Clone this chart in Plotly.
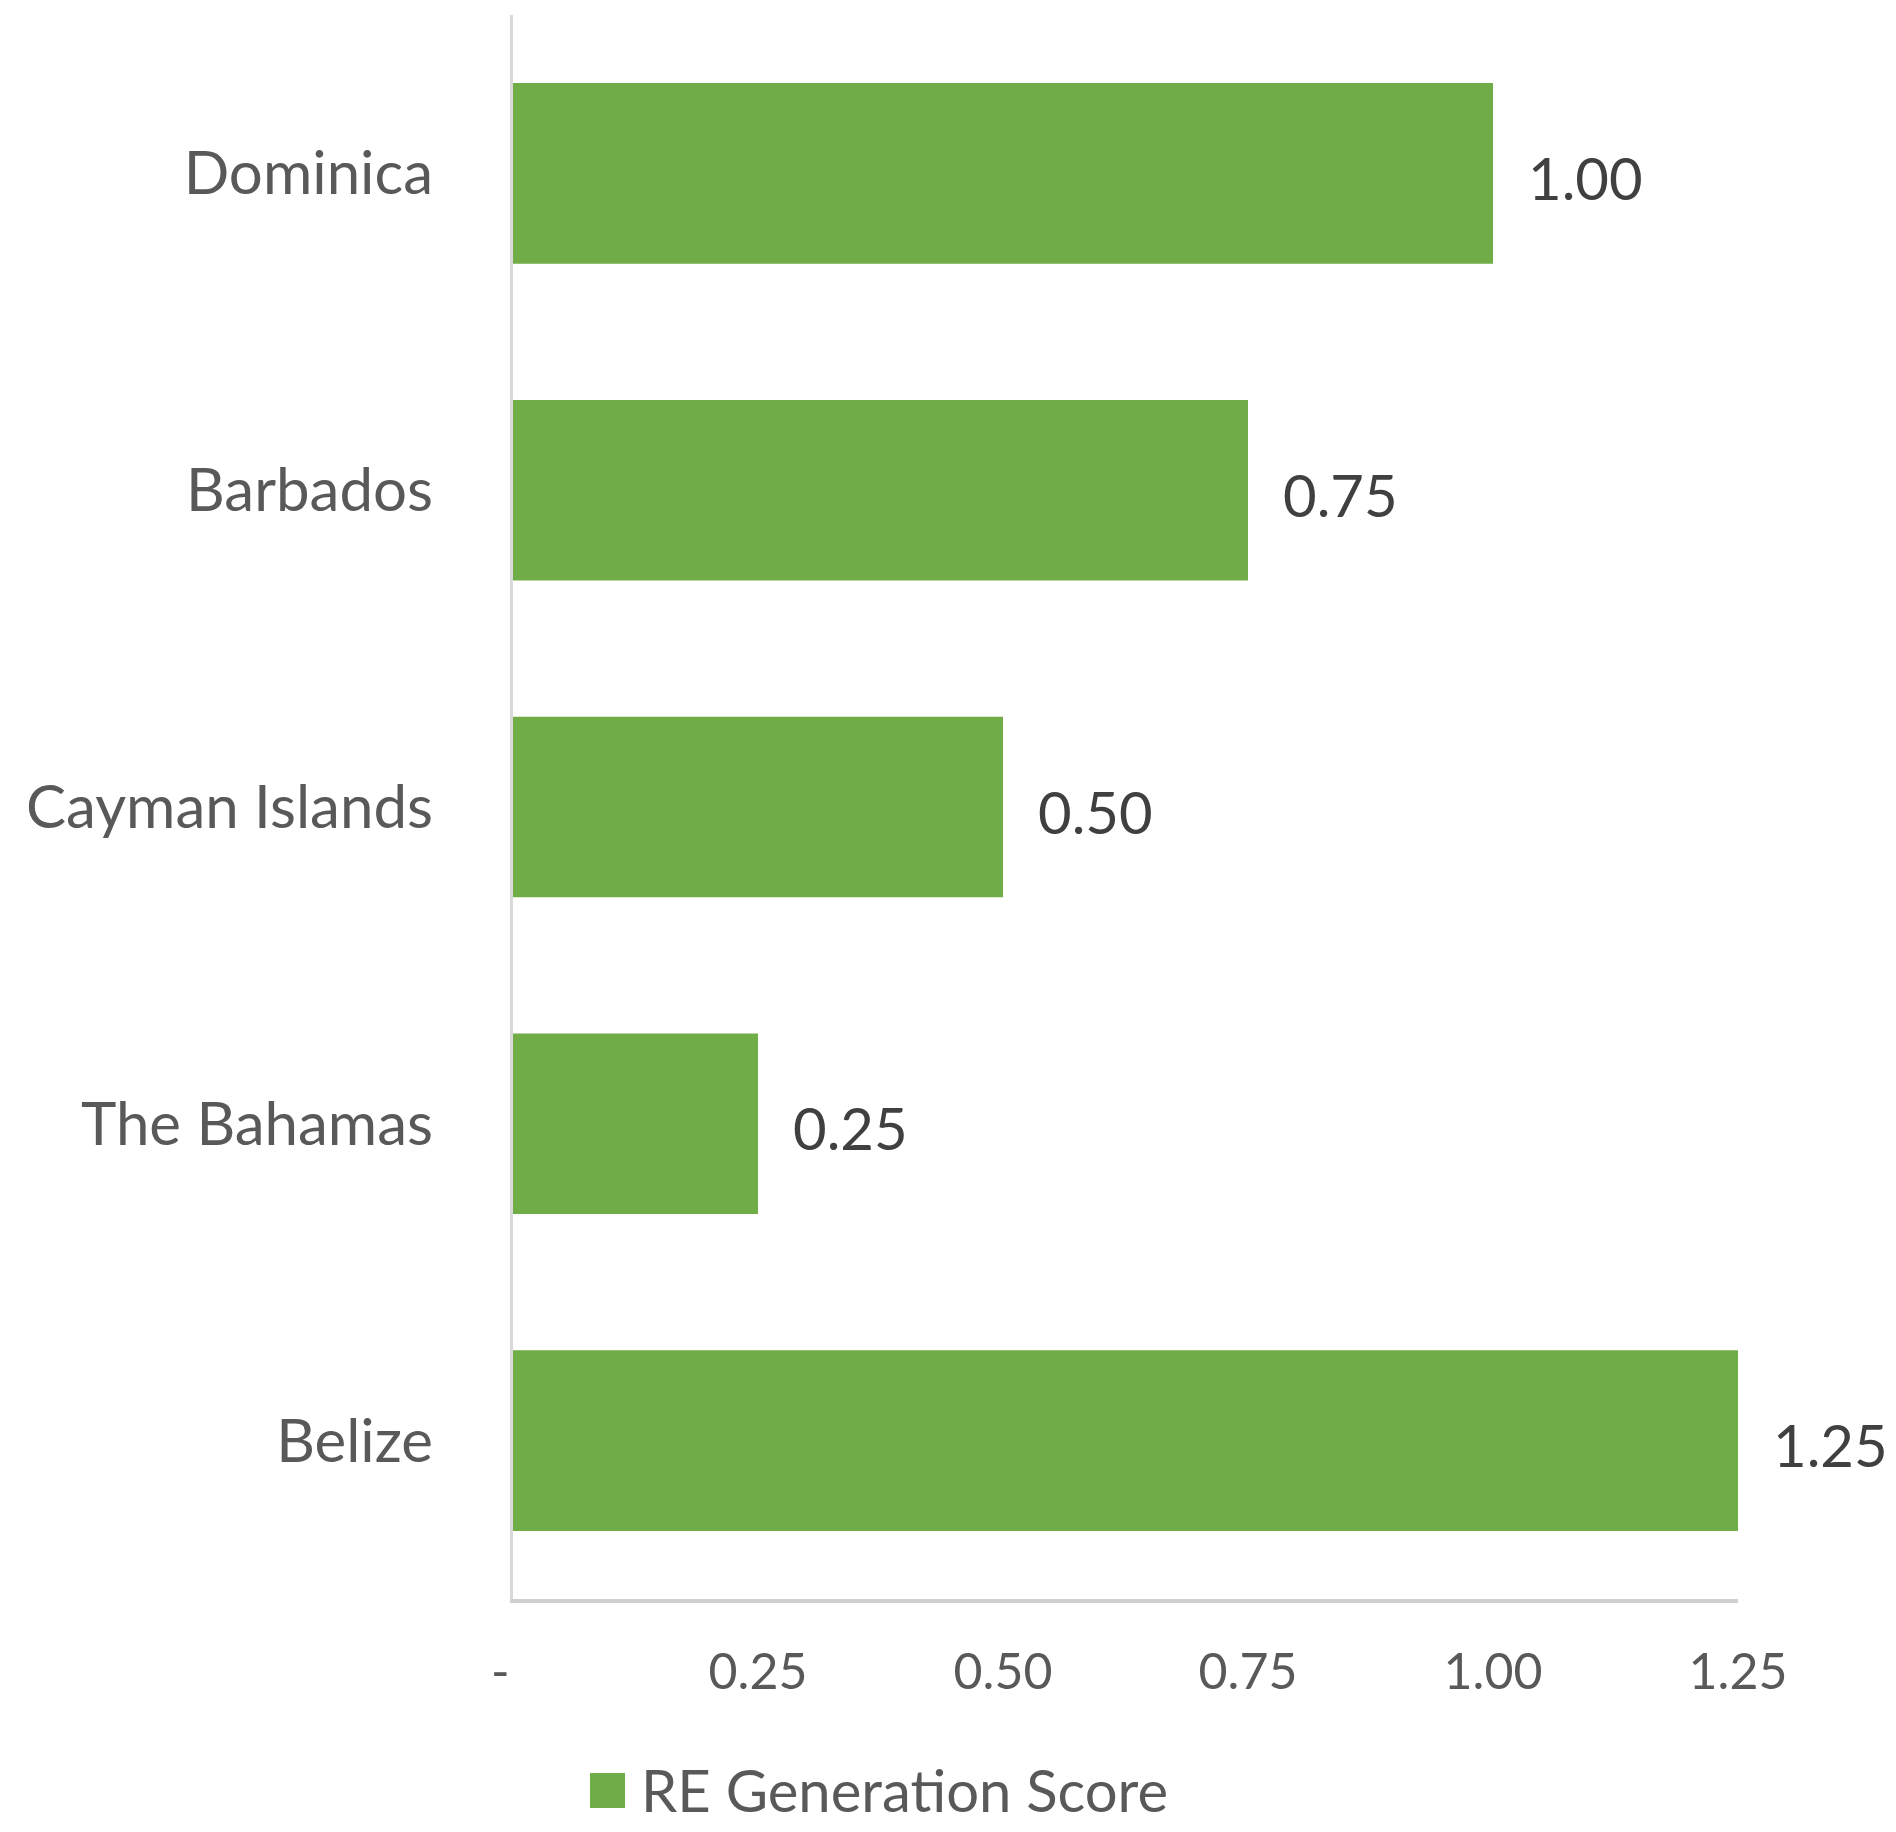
import plotly.graph_objects as go

countries = ["Dominica", "Barbados", "Cayman Islands", "The Bahamas", "Belize"]
scores = [1.00, 0.75, 0.50, 0.25, 1.25]
tick_vals = [0, 0.25, 0.50, 0.75, 1.00, 1.25]
tick_text = ["-\u00a0\u00a0", "0.25", "0.50", "0.75", "1.00", "1.25"]
series_name = "RE Generation Score"

GREEN = "#70AD47"
FONT = "Lato"

# plot area in page pixels (reference): x 513..1738, y 15..1599
PX0, PX1, PY0, PY1 = 513, 1738, 15, 1599
PW, PH = PX1 - PX0, PY1 - PY0

fig = go.Figure()
fig.add_trace(go.Bar(
    x=scores, y=countries, orientation="h",
    marker=dict(color=GREEN, line=dict(width=0)),
    name=series_name, showlegend=False,
))

for c, v in zip(countries, scores):
    fig.add_annotation(
        x=v, y=c, xref="x", yref="y", text=f"{v:.2f}",
        showarrow=False, xanchor="left", yanchor="middle",
        xshift=33, yshift=-4,
        font=dict(family=FONT, size=58, color="#404040"),
    )

# legend (manual, to match the large swatch)
fig.add_shape(type="rect", xref="paper", yref="paper",
              x0=(590 - PX0) / PW, x1=(625 - PX0) / PW,
              y0=-(1808 - PY1) / PH, y1=-(1773 - PY1) / PH,
              fillcolor=GREEN, line=dict(width=0))
fig.add_annotation(x=(640 - PX0) / PW, y=-(1789 - PY1) / PH,
                   xref="paper", yref="paper", text=series_name,
                   showarrow=False, xanchor="left", yanchor="middle",
                   borderpad=0,
                   font=dict(family=FONT, size=58, color="#595959"))

# the page body adds an 8px offset
W, H = 1880, 1816
fig.update_layout(
    width=W, height=H,
    margin=dict(l=PX0 - 8, r=W - (PX1 - 8), t=PY0 - 8, b=H - (PY1 - 8)),
    paper_bgcolor="white", plot_bgcolor="white",
    bargap=0.43,
    font=dict(family=FONT, color="#595959"),
    showlegend=False,
)
fig.update_xaxes(
    range=[0, 1.25], tickvals=tick_vals, ticktext=tick_text,
    showgrid=False, zeroline=False, showline=True,
    linecolor="#d0d0d0", linewidth=4, ticks="",
    ticklabelstandoff=26,
    tickfont=dict(family=FONT, size=50, color="#595959"),
)
fig.update_yaxes(
    categoryorder="array", categoryarray=countries, autorange="reversed",
    showgrid=False, zeroline=False, showline=True,
    linecolor="#d9d9d9", linewidth=3, ticks="",
    ticklabelstandoff=65,
    tickfont=dict(family=FONT, size=60, color="#595959"),
)

fig.write_html("out.html")
